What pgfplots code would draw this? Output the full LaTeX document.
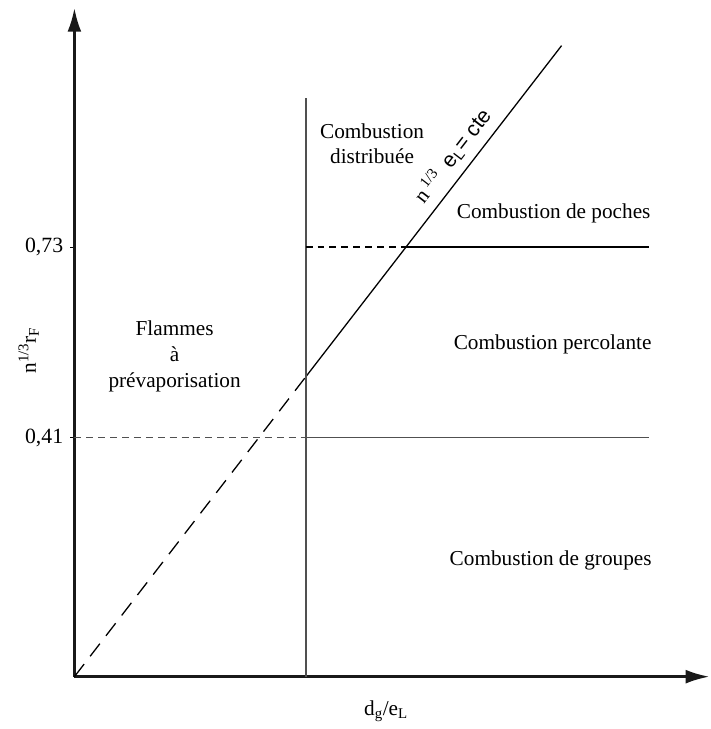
\documentclass[border=0pt]{standalone}
\usepackage{fontspec}
\setmainfont{Liberation Serif}
\newfontfamily\sansf{Liberation Sans}
\usepackage{pgfplots}
\pgfplotsset{compat=1.18}
\usetikzlibrary{arrows.meta}
\definecolor{lg}{HTML}{505050}
\begin{document}
\fontsize{21.5}{26}\selectfont
\begin{tikzpicture}
\begin{axis}[
  x=1bp, y=1bp, xmin=0, xmax=640, ymin=0, ymax=674,
  axis lines=left,
  every outer x axis line/.style={line width=2.6bp, draw=black!90, -{Latex[length=24bp,width=14bp]}},
  every outer y axis line/.style={line width=2.6bp, draw=black!90, -{Latex[length=24bp,width=14bp]}},
  clip=false,
  xtick=\empty,
  ytick={241,433}, yticklabels={{0,41},{0,73}},
  tick align=outside, major tick length=4bp, tick style={line width=1bp, black},
  /pgf/number format/assume math mode=true,
  ticklabel style={font=\fontsize{22}{26}\selectfont},
]
\path (axis cs:-75,-47) rectangle (axis cs:640,682);
\addplot[black, line width=1.3bp, dash pattern=on 16bp off 10bp] coordinates {(0,0) (233,302)};
\addplot[black, line width=1.3bp] coordinates {(233,302) (491,636)};
\addplot[lg, line width=2bp] coordinates {(233,0) (233,583)};
\addplot[lg, line width=1.8bp, dash pattern=on 7bp off 5bp] coordinates {(0,241) (233,241)};
\addplot[lg, line width=1.8bp] coordinates {(233,241) (579,241)};
\addplot[black, line width=1.3bp, dash pattern=on 7bp off 5bp] coordinates {(233,433) (336,433)};
\addplot[black, line width=1.3bp] coordinates {(336,433) (579,433)};

\node[align=center] at (axis cs:300,537) {Combustion\\distribuée};
\node at (axis cs:483,467) {Combustion de poches};
\node at (axis cs:482,335) {Combustion percolante};
\node at (axis cs:480,117) {Combustion de groupes};
\node[align=center] at (axis cs:101,323) {Flammes\\à\\prévaporisation};
\node[rotate=52.3] at (axis cs:381,525) {n\,\textsuperscript{1/3}\enspace{\sansf e\textsubscript{L}= cte}};
\node[rotate=90] at (axis cs:-46,329) {n\textsuperscript{1/3}r\textsubscript{F}};
\node at (axis cs:314,-35) {d\textsubscript{g}/e\textsubscript{L}};
\end{axis}
\end{tikzpicture}
\end{document}
